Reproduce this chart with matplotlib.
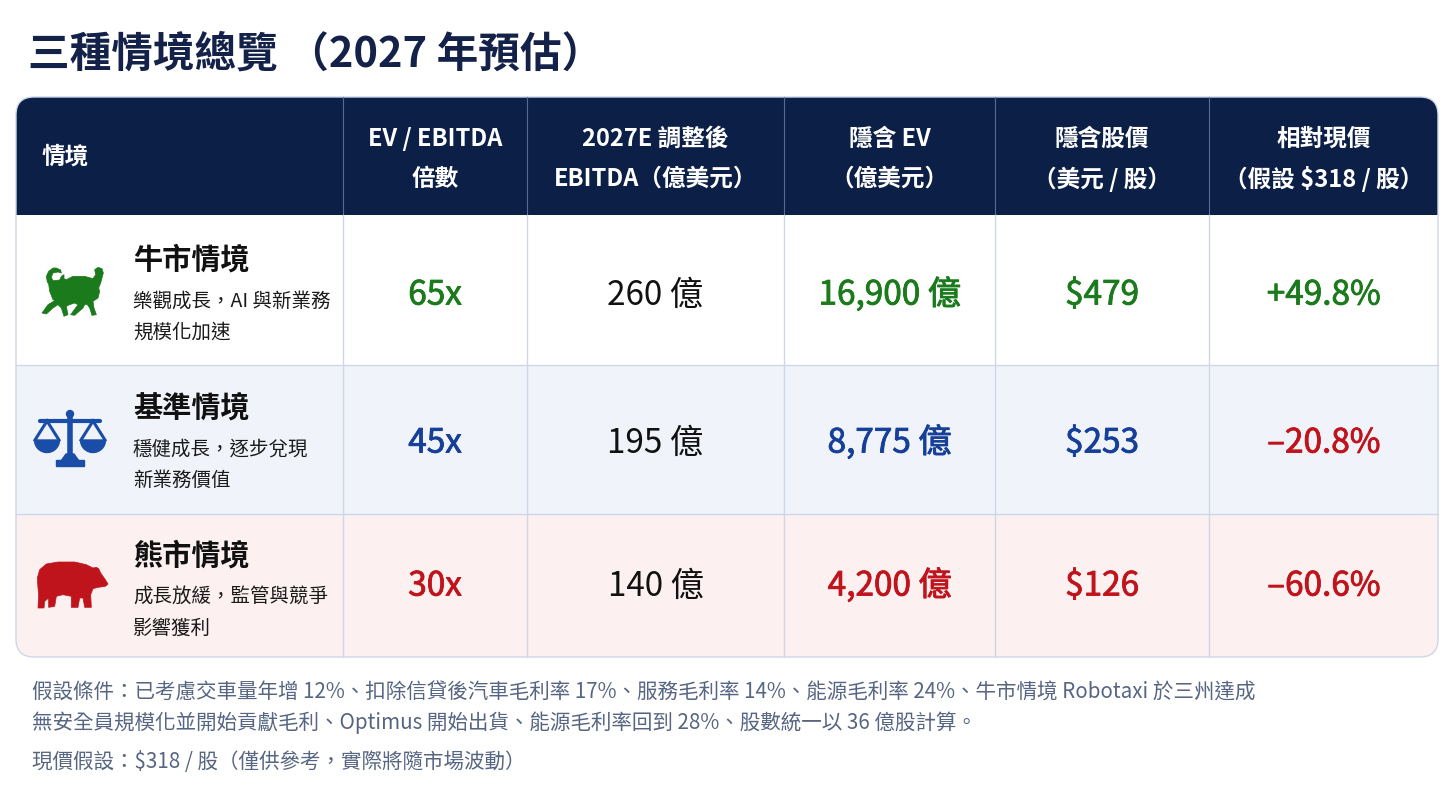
import numpy as np
import matplotlib
matplotlib.use("Agg")
import matplotlib.pyplot as plt
import matplotlib.patheffects as pe
from matplotlib.patches import FancyBboxPatch, Rectangle, Polygon, Circle, Wedge

plt.rcParams['font.family'] = ['Noto Sans CJK TC', 'DejaVu Sans']

# ---- data ----
title = "三種情境總覽 （2027 年預估）"
headers = [["情境"],
           ["EV / EBITDA", "倍數"],
           ["2027E 調整後", "EBITDA（億美元）"],
           ["隱含 EV", "（億美元）"],
           ["隱含股價", "（美元 / 股）"],
           ["相對現價", "（假設 \\$318 / 股）"]]
scenarios = ["牛市情境", "基準情境", "熊市情境"]
descriptions = [["樂觀成長，AI 與新業務", "規模化加速"],
                ["穩健成長，逐步兌現", "新業務價值"],
                ["成長放緩，監管與競爭", "影響獲利"]]
multiples = [65, 45, 30]
ebitda = [260, 195, 140]
implied_ev = [16900, 8775, 4200]
implied_price = [479, 253, 126]
upside = [49.8, -20.8, -60.6]
notes = ["假設條件：已考慮交車量年增 12%、扣除信貸後汽車毛利率 17%、服務毛利率 14%、能源毛利率 24%、牛市情境 Robotaxi 於三州達成",
         "無安全員規模化並開始貢獻毛利、Optimus 開始出貨、能源毛利率回到 28%、股數統一以 36 億股計算。",
         "現價假設：\\$318 / 股（僅供參考，實際將隨市場波動）"]

# ---- style ----
navy = "#0c1f47"
title_col = "#14224a"
grid_col = "#cdd7e8"
row_bg = ["#ffffff", "#f0f4fa", "#fcf0f0"]
val_col = ["#1b7a1b", "#163f98", "#c0141c"]
note_col = "#566582"

fig = plt.figure(figsize=(14.56, 8.08), dpi=100)
ax = fig.add_axes([0, 0, 1, 1])
ax.set_xlim(0, 1456)
ax.set_ylim(808, 0)
ax.axis("off")

left, right, top = 16, 1438, 97
head_bot = 215
row_edges = [215, 365, 514, 657]
col_edges = [16, 343, 527, 784, 995, 1209, 1438]
bottom = row_edges[-1]

ax.text(28, 55, title, fontsize=30, fontweight="bold", color=title_col,
        ha="left", va="center")

clip = FancyBboxPatch((left, top), right - left, bottom - top,
                      boxstyle="round,pad=0,rounding_size=18",
                      facecolor="none", edgecolor="none")
ax.add_patch(clip)

hdr = Rectangle((left, top), right - left, head_bot - top, facecolor=navy,
                edgecolor="none")
ax.add_patch(hdr)
hdr.set_clip_path(clip)
for i in range(3):
    r = Rectangle((left, row_edges[i]), right - left,
                  row_edges[i + 1] - row_edges[i], facecolor=row_bg[i],
                  edgecolor="none")
    ax.add_patch(r)
    r.set_clip_path(clip)

# grid
for x in col_edges[1:-1]:
    ax.plot([x, x], [top, head_bot], color="#5a6a8e", lw=0.8)
    ax.plot([x, x], [head_bot, bottom], color=grid_col, lw=1.0)
for y in row_edges[1:-1]:
    ax.plot([left, right], [y, y], color=grid_col, lw=1.0)
border = FancyBboxPatch((left, top), right - left, bottom - top,
                        boxstyle="round,pad=0,rounding_size=18",
                        facecolor="none", edgecolor=grid_col, lw=1.0)
ax.add_patch(border)

# header text
ax.text(42, 157, headers[0][0], fontsize=17, fontweight="bold", color="white",
        ha="left", va="center")
for j in range(1, 6):
    cx = (col_edges[j] + col_edges[j + 1]) / 2
    for k, line in enumerate(headers[j]):
        ax.text(cx, 139 + 40 * k, line, fontsize=17, fontweight="bold",
                color="white", ha="center", va="center")

# icons (outline traced at 3x, then scaled down)
def icon(ax, x0, y0, pts, color):
    ax.add_patch(Polygon([(x0 + a / 3, y0 + b / 3) for a, b in pts],
                         closed=True, facecolor=color, edgecolor=color,
                         lw=0.5, joinstyle="round"))

bull_pts = [(95, 130), (75, 125), (65, 100), (62, 78), (58, 72), (55, 55),
            (62, 40), (75, 30), (85, 30), (98, 36), (100, 45), (90, 42),
            (75, 45), (70, 58), (75, 68), (95, 66), (100, 55), (108, 50),
            (108, 62), (115, 65), (135, 55), (170, 55), (195, 62), (203, 50),
            (200, 35), (210, 28), (222, 32), (226, 45), (222, 60), (218, 75),
            (212, 90), (215, 100), (210, 120), (195, 130), (198, 150),
            (205, 170), (192, 172), (185, 150), (178, 140), (170, 140),
            (165, 150), (140, 172), (128, 170), (150, 140), (140, 135),
            (125, 140), (115, 145), (120, 170), (108, 175), (100, 150),
            (90, 140), (75, 150), (55, 168), (42, 165), (60, 140), (80, 128)]
bear_pts = [(30, 120), (28, 90), (35, 65), (55, 48), (90, 42), (140, 42),
            (175, 50), (195, 60), (205, 58), (212, 62), (218, 75), (232, 95),
            (240, 108), (232, 115), (210, 118), (195, 122), (188, 140),
            (190, 178), (170, 178), (165, 150), (155, 150), (150, 178),
            (130, 178), (130, 145), (105, 140), (85, 145), (80, 175),
            (62, 178), (62, 150), (50, 160), (48, 180), (30, 180), (32, 140)]

def scales(ax, cx, cy, color):
    ax.plot([cx, cx], [cy - 24, cy + 20], color=color, lw=4.0,
            solid_capstyle="butt")
    ax.add_patch(Circle((cx, cy - 26), 3.5, color=color))
    ax.plot([cx - 30, cx + 30], [cy - 19, cy - 19], color=color, lw=3.0,
            solid_capstyle="round")
    for px in (cx - 23, cx + 23):
        ax.plot([px - 12, px, px + 12], [cy, cy - 19, cy], color=color,
                lw=2.2, solid_joinstyle="miter")
        ax.add_patch(Wedge((px, cy), 12.5, 0, 180, color=color))
    ax.add_patch(Rectangle((cx - 14, cy + 20), 28, 6, color=color))
    ax.add_patch(Polygon([(cx - 4, cy + 14), (cx + 4, cy + 14),
                          (cx + 9, cy + 21), (cx - 9, cy + 21)], color=color))

icon(ax, 28, 258, bull_pts, val_col[0])
scales(ax, 70, 440, "#1a4da8")
icon(ax, 28, 548, bear_pts, val_col[2])

# rows
title_y = [260, 408, 556]
value_y = [295, 443, 586]
for i in range(3):
    ax.text(133, title_y[i], scenarios[i], fontsize=21, fontweight="bold",
            color="#111111", ha="left", va="center")
    for k, line in enumerate(descriptions[i]):
        ax.text(133, title_y[i] + 41 + 31 * k, line, fontsize=14,
                color="#1a1a1a", ha="left", va="center")
    sign = "+" if upside[i] > 0 else "–"
    cells = [f"{multiples[i]}x", f"{ebitda[i]} 億", f"{implied_ev[i]:,} 億",
             f"\\${implied_price[i]}", f"{sign}{abs(upside[i]):.1f}%"]
    colors = [val_col[i], "#111111", val_col[i], val_col[i],
              val_col[0] if upside[i] > 0 else val_col[2]]
    for j, (txt, c) in enumerate(zip(cells, colors)):
        cx = (col_edges[j + 1] + col_edges[j + 2]) / 2
        t = ax.text(cx, value_y[i], txt, fontsize=24, color=c, ha="center",
                    va="center")
        if j != 1:
            t.set_path_effects([pe.withStroke(linewidth=0.6, foreground=c)])

# notes
note_y = [693, 723, 762]
for line, y in zip(notes, note_y):
    ax.text(32, y, line, fontsize=14.8, style="italic", color=note_col,
            ha="left", va="center")

fig.savefig("out.png", dpi=100, facecolor="white")
